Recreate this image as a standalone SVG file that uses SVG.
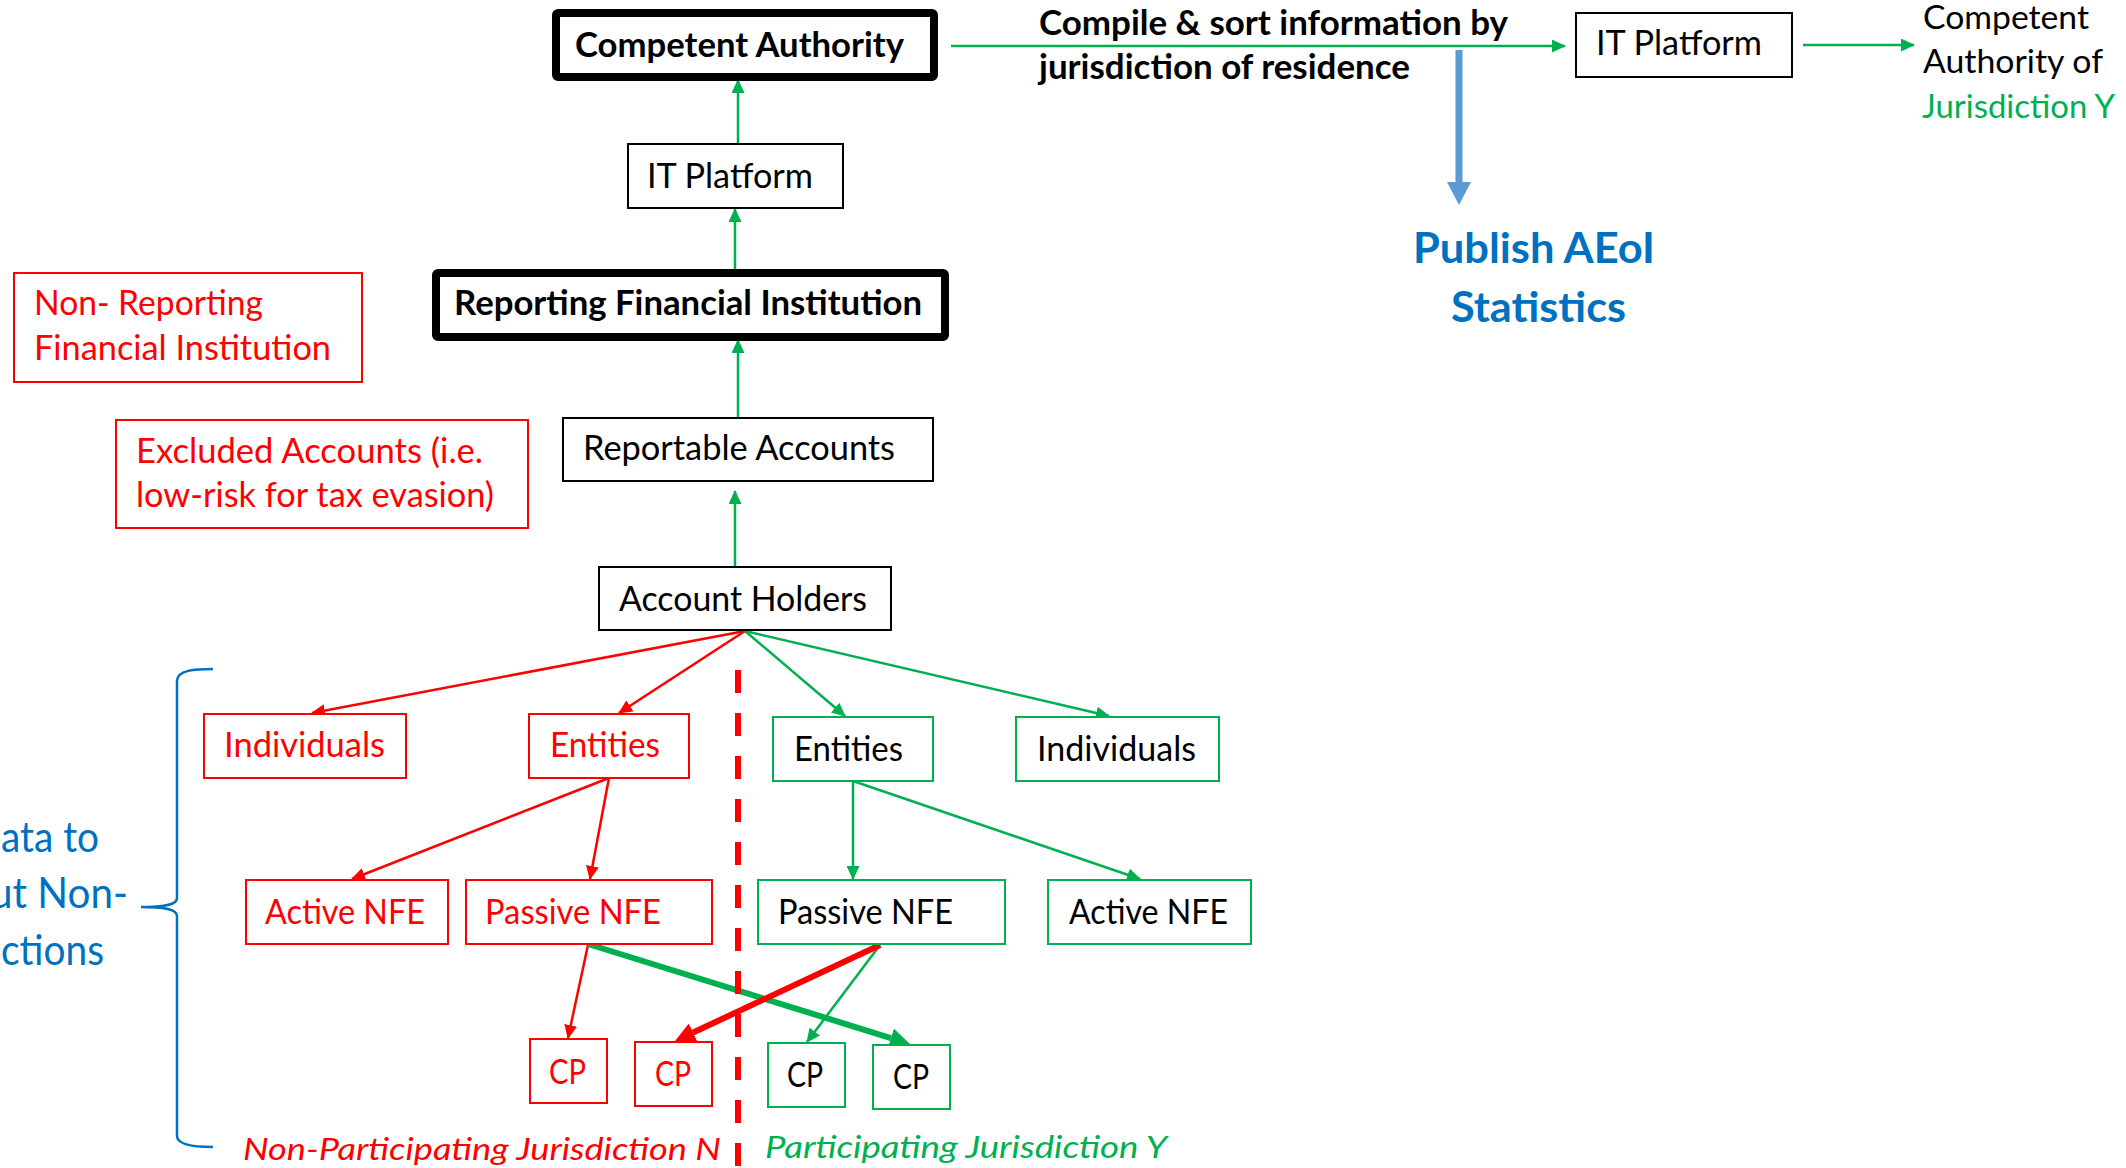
<svg xmlns="http://www.w3.org/2000/svg" width="2126" height="1168" viewBox="0 0 2126 1168">
  <style>
    text { font-family: Lato, "Open Sans", "Liberation Sans", sans-serif; font-size: 34px; }
    .b { font-weight: bold; }
    .red { fill: #FF0000; }
    .grn { fill: #00B050; }
    .blk { fill: #000000; }
    .blu { fill: #0070C0; }
    .it { font-style: italic; font-size: 30px; }
    .big { font-size: 42px; font-weight: bold; }
    .side { font-size: 42px; }
    .corner { font-size: 32px; }
    .box { fill: #FFFFFF; stroke: #000000; stroke-width: 2; }
    .thick { fill: #FFFFFF; stroke: #000000; stroke-width: 8; }
    .rbox { fill: #FFFFFF; stroke: #FF0000; stroke-width: 2; }
    .gbox { fill: #FFFFFF; stroke: #00B050; stroke-width: 2; }
    .gl { stroke: #00B050; stroke-width: 2.5; fill: none; }
    .rl { stroke: #FF0000; stroke-width: 2.5; fill: none; }
  </style>
  <defs>
    <marker id="ahG" viewBox="0 0 14 13" refX="13" refY="6.5" markerWidth="14" markerHeight="13" markerUnits="userSpaceOnUse" orient="auto">
      <path d="M0,0 L14,6.5 L0,13 z" fill="#00B050"/>
    </marker>
    <marker id="ahR" viewBox="0 0 14 13" refX="13" refY="6.5" markerWidth="14" markerHeight="13" markerUnits="userSpaceOnUse" orient="auto">
      <path d="M0,0 L14,6.5 L0,13 z" fill="#FF0000"/>
    </marker>
    <marker id="ahGt" viewBox="0 0 20 20" refX="0" refY="10" markerWidth="20" markerHeight="20" markerUnits="userSpaceOnUse" orient="auto">
      <path d="M0,0 L20,10 L0,20 z" fill="#00B050"/>
    </marker>
    <marker id="ahRt" viewBox="0 0 20 20" refX="0" refY="10" markerWidth="20" markerHeight="20" markerUnits="userSpaceOnUse" orient="auto">
      <path d="M0,0 L20,10 L0,20 z" fill="#FF0000"/>
    </marker>
    <marker id="ahB" viewBox="0 0 23 24" refX="0" refY="12" markerWidth="23" markerHeight="24" markerUnits="userSpaceOnUse" orient="auto">
      <path d="M0,0 L23,12 L0,24 z" fill="#5B9BD5"/>
    </marker>
  </defs>

  <rect width="2126" height="1168" fill="#FFFFFF"/>

  <!-- connectors -->
  <g id="connectors">
    <!-- reporting chain, upwards -->
    <line class="gl" x1="735" y1="566" x2="735" y2="491" marker-end="url(#ahG)"/>
    <line class="gl" x1="738" y1="417" x2="738" y2="340" marker-end="url(#ahG)"/>
    <line class="gl" x1="735" y1="270" x2="735" y2="209" marker-end="url(#ahG)"/>
    <line class="gl" x1="738" y1="143" x2="738" y2="80" marker-end="url(#ahG)"/>
    <!-- exchange flow -->
    <line class="gl" x1="951" y1="46" x2="1565" y2="46" marker-end="url(#ahG)"/>
    <line class="gl" x1="1803" y1="45" x2="1914" y2="45" marker-end="url(#ahG)"/>
    <line x1="1459" y1="50" x2="1459" y2="182" stroke="#5B9BD5" stroke-width="7" marker-end="url(#ahB)"/>
    <!-- account holder split -->
    <line class="rl" x1="745" y1="631" x2="312" y2="713" marker-end="url(#ahR)"/>
    <line class="rl" x1="745" y1="631" x2="619" y2="713" marker-end="url(#ahR)"/>
    <line class="gl" x1="745" y1="631" x2="845" y2="716" marker-end="url(#ahG)"/>
    <line class="gl" x1="745" y1="631" x2="1109" y2="716" marker-end="url(#ahG)"/>
    <!-- entity split -->
    <line class="rl" x1="609" y1="778" x2="352" y2="879" marker-end="url(#ahR)"/>
    <line class="rl" x1="609" y1="778" x2="590" y2="879" marker-end="url(#ahR)"/>
    <line class="gl" x1="853" y1="781" x2="853" y2="879" marker-end="url(#ahG)"/>
    <line class="gl" x1="853" y1="781" x2="1140" y2="879" marker-end="url(#ahG)"/>
    <!-- controlling persons -->
    <line class="rl" x1="588" y1="945" x2="568" y2="1038" marker-end="url(#ahR)"/>
    <line class="gl" x1="880" y1="945" x2="807" y2="1042" marker-end="url(#ahG)"/>
    <line x1="588" y1="944" x2="890.9" y2="1038.1" stroke="#00B050" stroke-width="6" marker-end="url(#ahGt)"/>
    <line x1="880" y1="945" x2="693.1" y2="1032.5" stroke="#FF0000" stroke-width="6" marker-end="url(#ahRt)"/>
    <!-- jurisdiction divider -->
    <line x1="738" y1="670" x2="738" y2="1168" stroke="#FF0000" stroke-width="6" stroke-dasharray="23 20"/>
    <!-- brace -->
    <path d="M213,669 C195,669 177,670 177,681 L177,898 C177,905 165,907 141,907 C165,907 177,909 177,916 L177,1136 C177,1145 195,1147 213,1147" fill="none" stroke="#0070C0" stroke-width="2.5"/>
  </g>

  <g id="competent-authority">
    <rect class="thick" x="556" y="13" width="378" height="64" rx="2"/>
    <text class="b blk" x="575" y="57" textLength="329" lengthAdjust="spacingAndGlyphs">Competent Authority</text>
  </g>
  <g id="it-platform">
    <rect class="box" x="628" y="144" width="215" height="64"/>
    <text class="blk" x="647" y="188" textLength="166" lengthAdjust="spacingAndGlyphs">IT Platform</text>
  </g>
  <g id="reporting-fi">
    <rect class="thick" x="436" y="273" width="509" height="64" rx="2"/>
    <text class="b blk" x="454" y="315" textLength="468" lengthAdjust="spacingAndGlyphs">Reporting Financial Institution</text>
  </g>
  <g id="non-reporting-fi">
    <rect class="rbox" x="14" y="273" width="348" height="109"/>
    <text class="red" x="34" y="315" textLength="229" lengthAdjust="spacingAndGlyphs">Non- Reporting</text>
    <text class="red" x="34" y="360" textLength="297" lengthAdjust="spacingAndGlyphs">Financial Institution</text>
  </g>
  <g id="excluded-accounts">
    <rect class="rbox" x="116" y="420" width="412" height="108"/>
    <text class="red" x="136" y="463" textLength="347" lengthAdjust="spacingAndGlyphs">Excluded Accounts (i.e.</text>
    <text class="red" x="136" y="507" textLength="358" lengthAdjust="spacingAndGlyphs">low-risk for tax evasion)</text>
  </g>
  <g id="reportable-accounts">
    <rect class="box" x="563" y="418" width="370" height="63"/>
    <text class="blk" x="583" y="460" textLength="312" lengthAdjust="spacingAndGlyphs">Reportable Accounts</text>
  </g>
  <g id="account-holders">
    <rect class="box" x="599" y="567" width="292" height="63"/>
    <text class="blk" x="619" y="611" textLength="248" lengthAdjust="spacingAndGlyphs">Account Holders</text>
  </g>

  <g id="compile-label">
    <text class="b blk" x="1039" y="35" textLength="469" lengthAdjust="spacingAndGlyphs">Compile &amp; sort information by</text>
    <text class="b blk" x="1039" y="79" textLength="371" lengthAdjust="spacingAndGlyphs">jurisdiction of residence</text>
  </g>
  <g id="it-platform-2">
    <rect class="box" x="1576" y="13" width="216" height="64"/>
    <text class="blk" x="1596" y="55" textLength="166" lengthAdjust="spacingAndGlyphs">IT Platform</text>
  </g>
  <g id="partner-authority">
    <text class="corner blk" x="1923" y="29" textLength="166" lengthAdjust="spacingAndGlyphs">Competent</text>
    <text class="corner blk" x="1923" y="73" textLength="180" lengthAdjust="spacingAndGlyphs">Authority of</text>
    <text class="corner grn" x="1922" y="118" textLength="193" lengthAdjust="spacingAndGlyphs">Jurisdiction Y</text>
  </g>
  <g id="publish-stats">
    <text class="big blu" x="1413" y="263" textLength="242" lengthAdjust="spacingAndGlyphs">Publish AEoI</text>
    <text class="big blu" x="1451" y="322" textLength="175" lengthAdjust="spacingAndGlyphs">Statistics</text>
  </g>

  <!-- non-participating side -->
  <g id="individuals-n">
    <rect class="rbox" x="204" y="714" width="202" height="64"/>
    <text class="red" x="224" y="757" textLength="161" lengthAdjust="spacingAndGlyphs">Individuals</text>
  </g>
  <g id="entities-n">
    <rect class="rbox" x="529" y="714" width="160" height="64"/>
    <text class="red" x="550" y="757" textLength="110" lengthAdjust="spacingAndGlyphs">Entities</text>
  </g>
  <g id="active-nfe-n">
    <rect class="rbox" x="246" y="880" width="202" height="64"/>
    <text class="red" x="265" y="924" textLength="160" lengthAdjust="spacingAndGlyphs">Active NFE</text>
  </g>
  <g id="passive-nfe-n">
    <rect class="rbox" x="466" y="880" width="246" height="64"/>
    <text class="red" x="485" y="924" textLength="176" lengthAdjust="spacingAndGlyphs">Passive NFE</text>
  </g>
  <g id="cp-n1">
    <rect class="rbox" x="530" y="1039" width="77" height="64"/>
    <text class="red" x="549" y="1084" textLength="37" lengthAdjust="spacingAndGlyphs">CP</text>
  </g>
  <g id="cp-n2">
    <rect class="rbox" x="635" y="1042" width="77" height="64"/>
    <text class="red" x="655" y="1086" textLength="36" lengthAdjust="spacingAndGlyphs">CP</text>
  </g>

  <!-- participating side -->
  <g id="entities-y">
    <rect class="gbox" x="773" y="717" width="160" height="64"/>
    <text class="blk" x="794" y="761" textLength="109" lengthAdjust="spacingAndGlyphs">Entities</text>
  </g>
  <g id="individuals-y">
    <rect class="gbox" x="1016" y="717" width="203" height="64"/>
    <text class="blk" x="1037" y="761" textLength="159" lengthAdjust="spacingAndGlyphs">Individuals</text>
  </g>
  <g id="passive-nfe-y">
    <rect class="gbox" x="758" y="880" width="247" height="64"/>
    <text class="blk" x="778" y="924" textLength="175" lengthAdjust="spacingAndGlyphs">Passive NFE</text>
  </g>
  <g id="active-nfe-y">
    <rect class="gbox" x="1048" y="880" width="203" height="64"/>
    <text class="blk" x="1069" y="924" textLength="159" lengthAdjust="spacingAndGlyphs">Active NFE</text>
  </g>
  <g id="cp-y1">
    <rect class="gbox" x="768" y="1043" width="77" height="64"/>
    <text class="blk" x="787" y="1087" textLength="36" lengthAdjust="spacingAndGlyphs">CP</text>
  </g>
  <g id="cp-y2">
    <rect class="gbox" x="873" y="1045" width="77" height="64"/>
    <text class="blk" x="893" y="1089" textLength="36" lengthAdjust="spacingAndGlyphs">CP</text>
  </g>

  <g id="jurisdiction-labels">
    <text class="it red" x="243" y="1160" textLength="478" lengthAdjust="spacingAndGlyphs">Non-Participating Jurisdiction N</text>
    <text class="it grn" x="765" y="1158" textLength="402" lengthAdjust="spacingAndGlyphs">Participating Jurisdiction Y</text>
  </g>

  <g id="side-note">
    <text class="side blu" x="1" y="852" textLength="98" lengthAdjust="spacingAndGlyphs">ata to</text>
    <text class="side blu" x="-10" y="908" textLength="138" lengthAdjust="spacingAndGlyphs">ut Non-</text>
    <text class="side blu" x="1" y="965" textLength="103" lengthAdjust="spacingAndGlyphs">ctions</text>
  </g>
</svg>
